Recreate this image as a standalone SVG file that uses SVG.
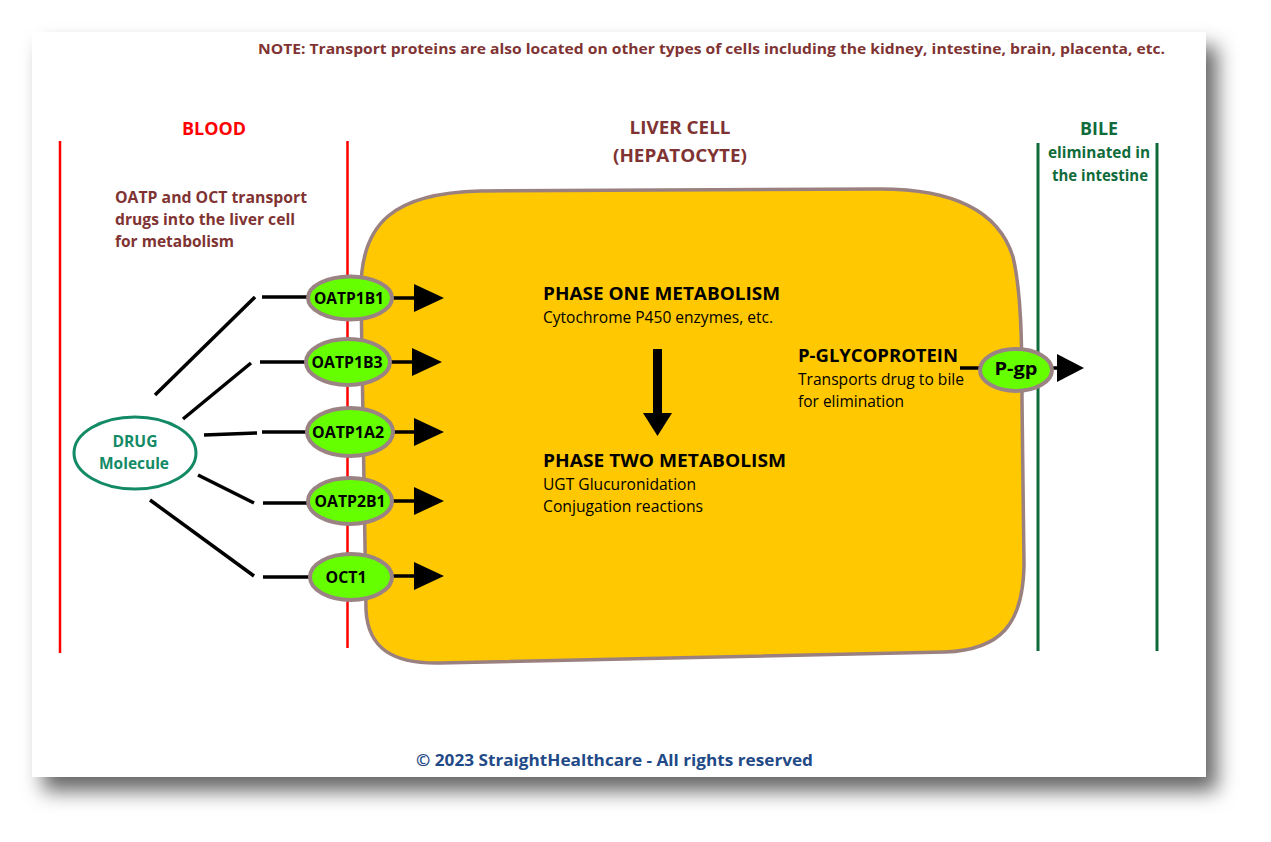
<svg xmlns="http://www.w3.org/2000/svg" width="1271" height="842" viewBox="0 0 1271 842">
<defs>
<filter id="sh" x="-10%" y="-10%" width="125%" height="130%">
<feDropShadow dx="11" dy="14" stdDeviation="10" flood-color="#000" flood-opacity="0.6"/>
</filter>
<style>
text{font-family:"Open Sans","Noto Sans","Liberation Sans",sans-serif;}
.b{font-weight:700;}
.mar{fill:#7f3333;}
.grn{fill:#0f6b3a;}
.tp{fill:#66ff00;stroke:#9b8383;stroke-width:4;}
.tl{font-size:16.5px;font-weight:700;fill:#000;text-anchor:middle;}
.ln{stroke:#000;stroke-width:3.5;fill:none;}
.ah{fill:#000;}
</style>
</defs>
<rect x="0" y="0" width="1271" height="842" fill="#fff"/>
<rect x="32" y="32" width="1174" height="745" fill="#fff" filter="url(#sh)"/>

<text class="b mar" x="258" y="54" font-size="14.5" textLength="907" lengthAdjust="spacingAndGlyphs">NOTE: Transport proteins are also located on other types of cells including the kidney, intestine, brain, placenta, etc.</text>

<!-- region boundaries -->
<g id="boundaries">
<line x1="60" y1="141" x2="60" y2="653" stroke="#ff0000" stroke-width="2.5"/>
<line x1="347.5" y1="141" x2="347.5" y2="648" stroke="#ff0000" stroke-width="2.5"/>
<line x1="1038" y1="143" x2="1038" y2="651" stroke="#0f6b3a" stroke-width="3"/>
<line x1="1157" y1="143" x2="1157" y2="651" stroke="#0f6b3a" stroke-width="3"/>
</g>

<g id="labels">
<text class="b" x="214" y="135" font-size="17" fill="#ff0000" text-anchor="middle" textLength="64" lengthAdjust="spacingAndGlyphs">BLOOD</text>
<text class="b mar" font-size="16">
<tspan x="115" y="203" textLength="192" lengthAdjust="spacingAndGlyphs">OATP and OCT transport</tspan>
<tspan x="115" y="225" textLength="180" lengthAdjust="spacingAndGlyphs">drugs into the liver cell</tspan>
<tspan x="115" y="247" textLength="119" lengthAdjust="spacingAndGlyphs">for metabolism</tspan>
</text>
<text class="mar b" x="680" y="134" font-size="17.5" text-anchor="middle" textLength="101" lengthAdjust="spacingAndGlyphs">LIVER CELL</text>
<text class="mar b" x="680" y="162" font-size="17.5" text-anchor="middle" textLength="134" lengthAdjust="spacingAndGlyphs">(HEPATOCYTE)</text>
<text class="b grn" x="1099" y="135" font-size="17" text-anchor="middle" textLength="38" lengthAdjust="spacingAndGlyphs">BILE</text>
<text class="b grn" x="1099" y="158" font-size="15.5" text-anchor="middle" textLength="102" lengthAdjust="spacingAndGlyphs">eliminated in</text>
<text class="b grn" x="1100" y="181" font-size="15.5" text-anchor="middle" textLength="96" lengthAdjust="spacingAndGlyphs">the intestine</text>
</g>

<!-- liver cell -->
<g id="liver-cell">
<path d="M 361,292 C 360,222 395,193 480,191 L 880,189 C 960,189 1000,215 1013,257 C 1021,290 1022,340 1022,400 L 1024,565 C 1023,625 1000,650 945,652 L 440,663 C 392,664 368,648 366,610 Z" fill="#ffc800" stroke="#9b8080" stroke-width="3.5"/>
<text class="b" x="543" y="300" font-size="18" textLength="237" lengthAdjust="spacingAndGlyphs">PHASE ONE METABOLISM</text>
<text x="543" y="323" font-size="16" textLength="230" lengthAdjust="spacingAndGlyphs">Cytochrome P450 enzymes, etc.</text>
<text class="b" x="543" y="467" font-size="18" textLength="243" lengthAdjust="spacingAndGlyphs">PHASE TWO METABOLISM</text>
<text x="543" y="490" font-size="16" textLength="153" lengthAdjust="spacingAndGlyphs">UGT Glucuronidation</text>
<text x="543" y="512" font-size="16" textLength="160" lengthAdjust="spacingAndGlyphs">Conjugation reactions</text>
<text class="b" x="798" y="362" font-size="17.5" textLength="160" lengthAdjust="spacingAndGlyphs">P-GLYCOPROTEIN</text>
<text x="798" y="385" font-size="16" textLength="166" lengthAdjust="spacingAndGlyphs">Transports drug to bile</text>
<text x="798" y="407" font-size="16" textLength="106" lengthAdjust="spacingAndGlyphs">for elimination</text>
</g>

<!-- connectors -->
<g id="connectors">
<line class="ln" x1="155" y1="395" x2="255" y2="297"/>
<line class="ln" x1="262" y1="297" x2="308" y2="297"/>
<line class="ln" x1="183" y1="419" x2="251" y2="363"/>
<line class="ln" x1="260" y1="362" x2="308" y2="362"/>
<line class="ln" x1="204" y1="435" x2="257" y2="433"/>
<line class="ln" x1="262" y1="432" x2="308" y2="432"/>
<line class="ln" x1="198" y1="475" x2="254" y2="503"/>
<line class="ln" x1="263" y1="503" x2="308" y2="503"/>
<line class="ln" x1="150" y1="500" x2="254" y2="576"/>
<line class="ln" x1="263" y1="577" x2="310" y2="577"/>

<line class="ln" x1="392" y1="298" x2="416" y2="298"/>
<polygon class="ah" points="414,284 444,298 414,312"/>
<line class="ln" x1="390" y1="362" x2="414" y2="362"/>
<polygon class="ah" points="412,348 442,362 412,376"/>
<line class="ln" x1="393" y1="432" x2="416" y2="432"/>
<polygon class="ah" points="414,418 444,432 414,446"/>
<line class="ln" x1="392" y1="501" x2="416" y2="501"/>
<polygon class="ah" points="414,487 444,501 414,515"/>
<line class="ln" x1="392" y1="576" x2="416" y2="576"/>
<polygon class="ah" points="414,562 444,576 414,590"/>

<rect x="653" y="349" width="9" height="66" fill="#000"/>
<polygon class="ah" points="643,413 672,413 657.5,436"/>

<line class="ln" x1="960" y1="368" x2="981" y2="368"/>
<line class="ln" x1="1052" y1="368" x2="1060" y2="368"/>
<polygon class="ah" points="1057,354 1084,368 1057,382"/>
</g>

<g id="drug">
<ellipse cx="135" cy="453" rx="61" ry="36" fill="#fff" stroke="#138a66" stroke-width="3"/>
<text class="b" x="135" y="447" font-size="16" fill="#138a66" text-anchor="middle" textLength="45" lengthAdjust="spacingAndGlyphs">DRUG</text>
<text class="b" x="134" y="469" font-size="16" fill="#138a66" text-anchor="middle" textLength="70" lengthAdjust="spacingAndGlyphs">Molecule</text>
</g>

<g id="oatp1b1"><ellipse class="tp" cx="350" cy="298" rx="42" ry="21.5"/><text class="tl" x="349" y="304" textLength="70" lengthAdjust="spacingAndGlyphs">OATP1B1</text></g>
<g id="oatp1b3"><ellipse class="tp" cx="348" cy="362" rx="42" ry="23"/><text class="tl" x="347" y="368" textLength="71" lengthAdjust="spacingAndGlyphs">OATP1B3</text></g>
<g id="oatp1a2"><ellipse class="tp" cx="350" cy="432" rx="43" ry="24"/><text class="tl" x="348" y="438" textLength="72" lengthAdjust="spacingAndGlyphs">OATP1A2</text></g>
<g id="oatp2b1"><ellipse class="tp" cx="350" cy="501" rx="42" ry="23"/><text class="tl" x="350" y="507" textLength="71" lengthAdjust="spacingAndGlyphs">OATP2B1</text></g>
<g id="oct1"><ellipse class="tp" cx="351" cy="577" rx="41" ry="23"/><text class="tl" x="346" y="583" textLength="41" lengthAdjust="spacingAndGlyphs">OCT1</text></g>
<g id="pgp"><ellipse class="tp" cx="1016" cy="370" rx="36" ry="21"/><text class="b" x="1016" y="375" font-size="18" text-anchor="middle" textLength="43" lengthAdjust="spacingAndGlyphs">P-gp</text></g>

<text class="b" x="416" y="766" font-size="16.5" fill="#1f4a87" textLength="397" lengthAdjust="spacingAndGlyphs">© 2023 StraightHealthcare - All rights reserved</text>
</svg>
